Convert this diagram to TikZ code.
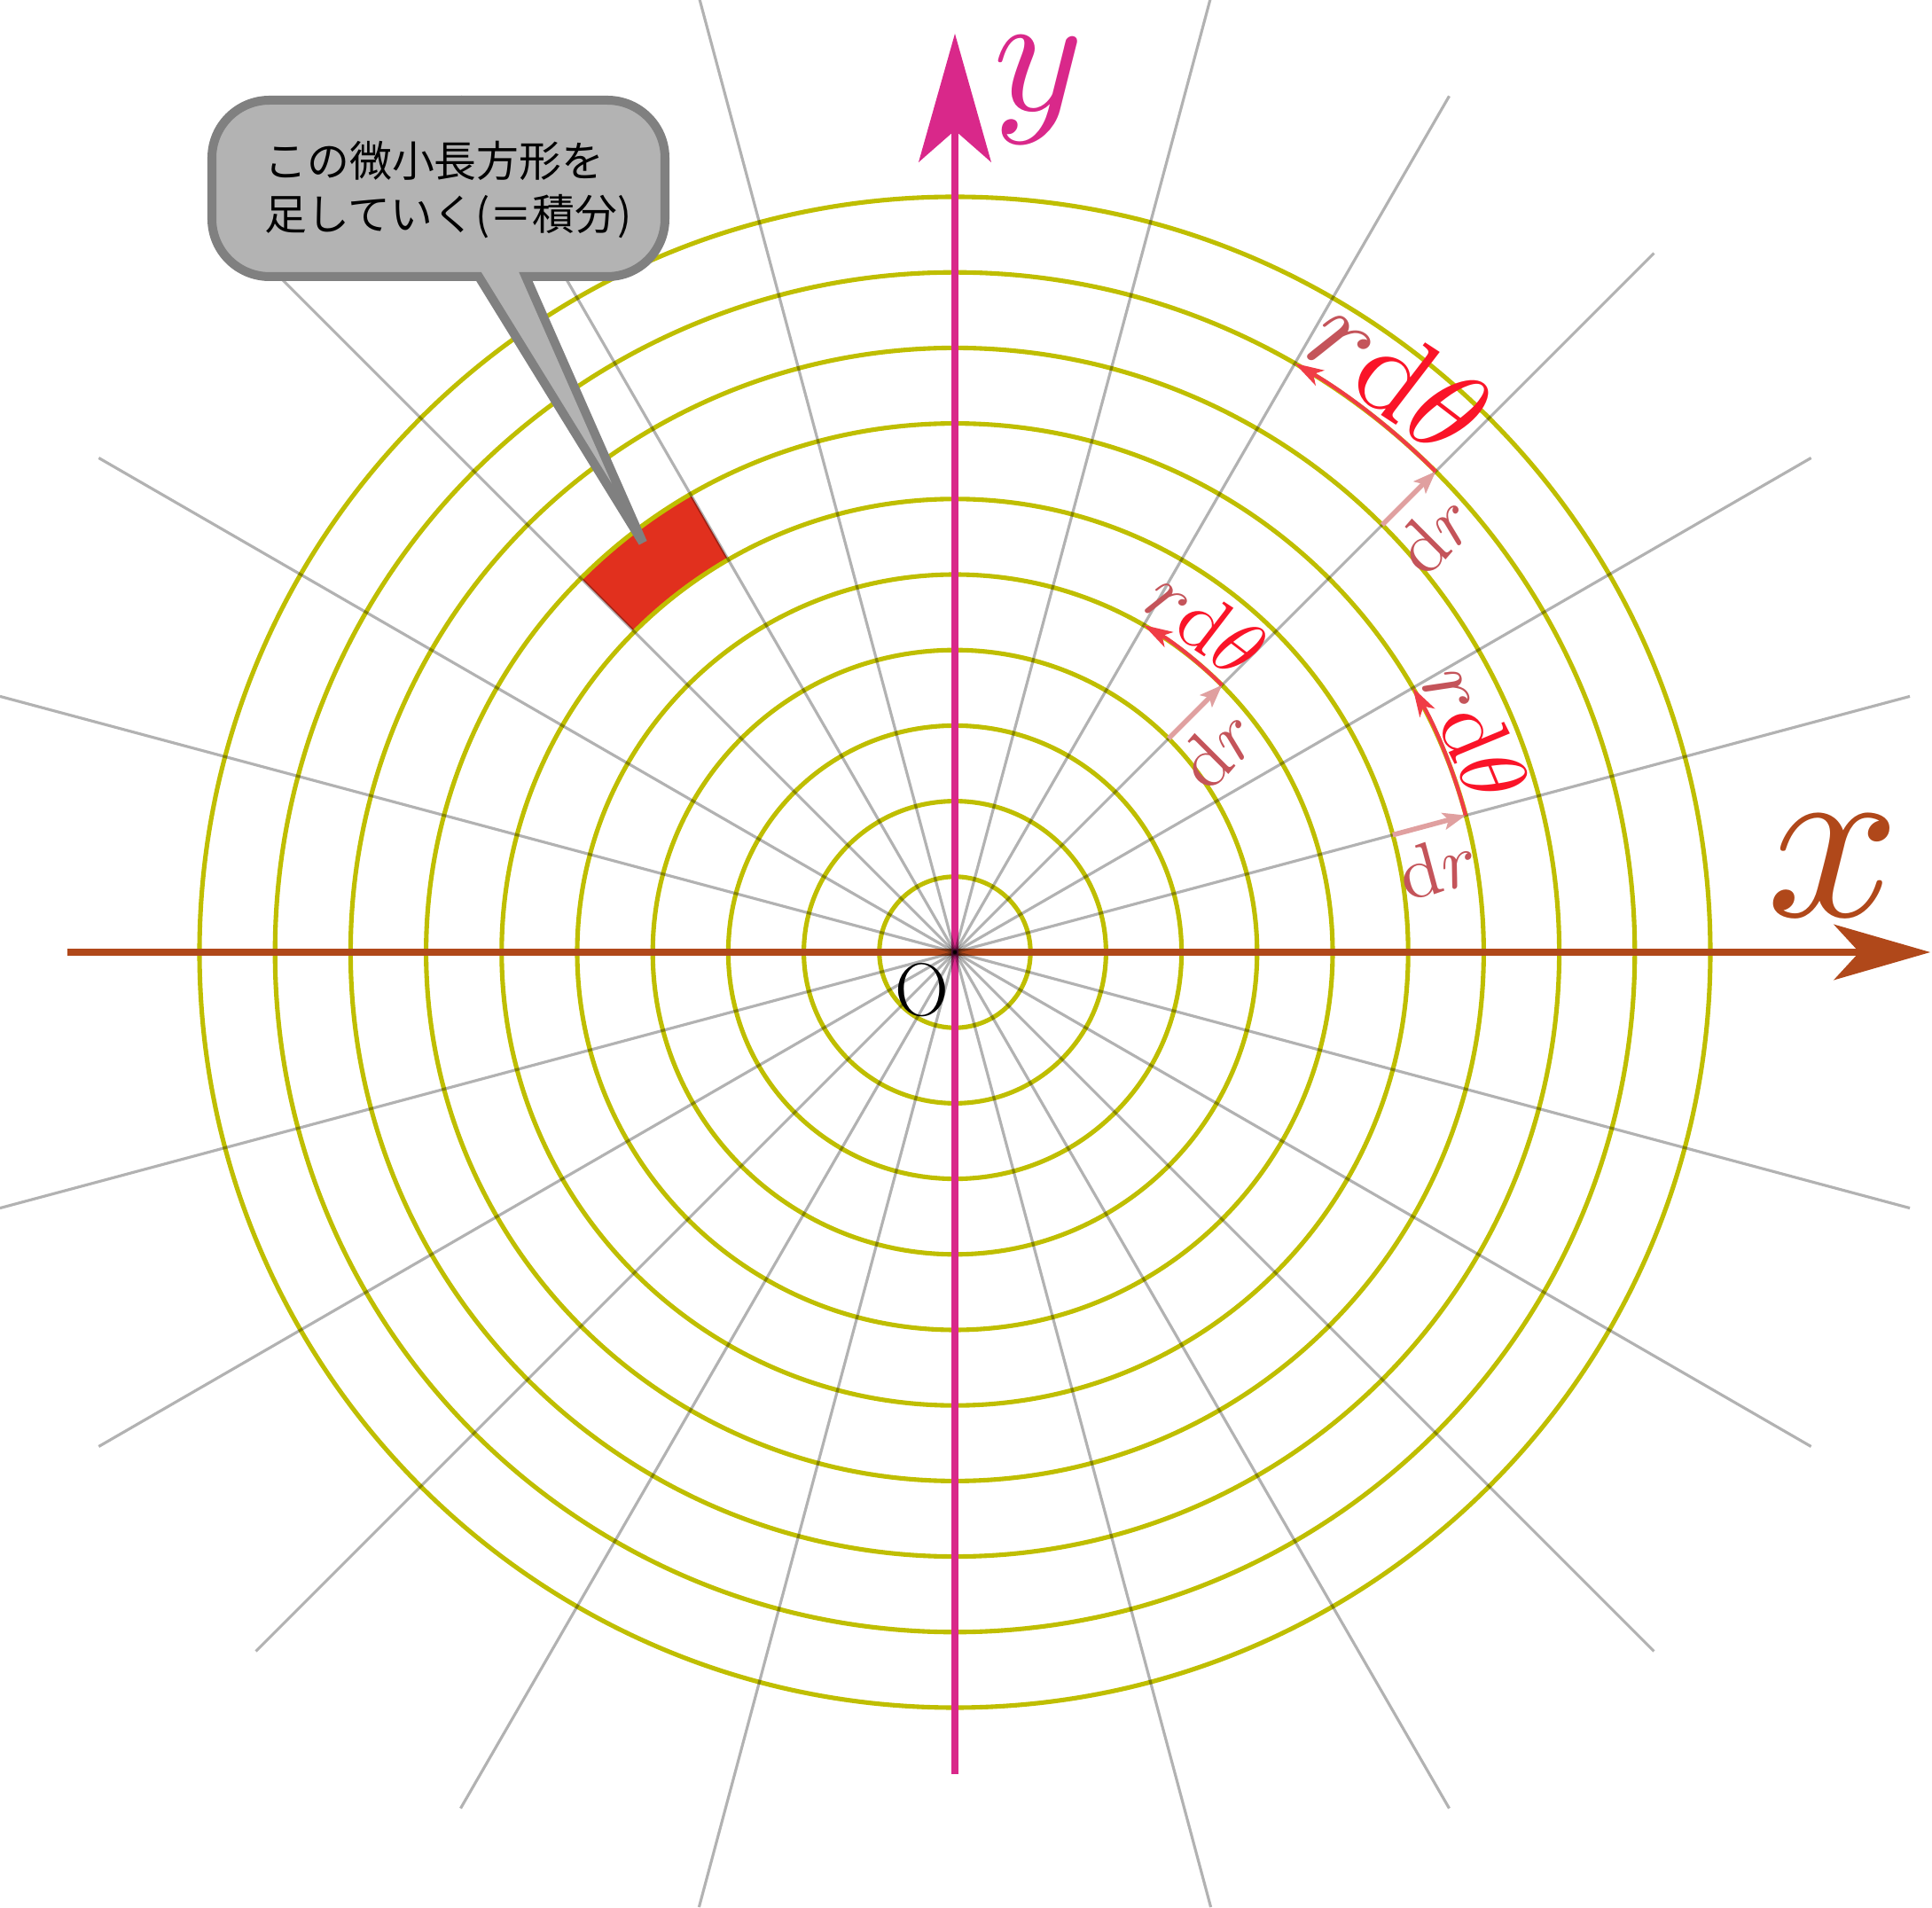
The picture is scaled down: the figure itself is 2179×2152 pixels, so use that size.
\documentclass[tikz,border=0pt]{standalone}
\usepackage{graphicx}
\usepackage{fontspec}
\newfontfamily\jpfont{Noto Sans CJK JP}
\usetikzlibrary{arrows.meta}
\definecolor{xcol}{HTML}{B0481A}
\definecolor{ycol}{HTML}{D9288A}
\definecolor{circcol}{HTML}{BFBE00}
\definecolor{seccol}{HTML}{E1301E}
\definecolor{boxfill}{HTML}{B3B3B3}
\definecolor{boxdraw}{HTML}{808080}
\definecolor{arccol}{HTML}{F03C46}
\definecolor{thcol}{HTML}{FA1428}
\definecolor{rcol}{HTML}{C4545A}
\definecolor{drcol}{HTML}{E0A0A0}
\newcommand{\rdth}{$\textcolor{rcol}{r}\textcolor{thcol}{\mathrm{d}\theta}$}
\newcommand{\drlab}{$\mathrm{d}r$}
\begin{document}
\begin{tikzpicture}[x=0.01cm,y=0.01cm,
  circ/.style={draw=circcol, line width=1.45pt},
  ray/.style={draw=black, opacity=0.3, line width=0.9pt},
  xaxis/.style={draw=xcol, line width=2.3pt, -{Stealth[length=1.09cm,width=0.63cm,inset=0.29cm,line width=0pt]}},
  yaxis/.style={draw=ycol, line width=2.3pt, -{Stealth[length=1.45cm,width=0.82cm,inset=0.36cm,line width=0pt]}},
  arcarrow/.style={draw=arccol, line width=1.2pt, -{Stealth[length=0.33cm,width=0.2cm,inset=0.09cm,line width=0pt]}},
  drarrow/.style={draw=drcol, line width=1.6pt, -{Stealth[length=0.26cm,width=0.2cm,inset=0.06cm,line width=0pt]}},
  lbl/.style={inner sep=0pt, outer sep=0pt},
  callout/.style={fill=boxfill, draw=boxdraw, line width=2.85pt},
  jp/.style={inner sep=0pt, font=\jpfont\fontsize{13.6}{16}\selectfont}
]
\useasboundingbox (-1077,-1078) rectangle (1102,1074);
\coordinate (O) at (0,0);
% small area element
\fill[seccol] (120:511.2) arc (120:135:511.2) -- (135:596.4) arc (135:120:596.4) -- cycle;
% circles
\foreach \i in {1,...,10} \draw[circ] (O) circle[radius=\i*85.2];
% axes
\coordinate (xs) at (-1001,0);
\coordinate (xe) at (1100,0);
\coordinate (ys) at (0,-927);
\coordinate (ye) at (0,1036);
\draw[xaxis] (xs) -- (xe);
\draw[yaxis] (ys) -- (ye);
% rays
\foreach \a in {15,30,45,60,75,105,120,135,150,165,195,210,225,240,255,285,300,315,330,345}
  \draw[ray] (O) -- (\a:1115);
% annotations
\coordinate (a1) at (45:681.6);
\coordinate (b1) at (45:766.8);
\draw[drarrow] (a1) -- (b1);
\draw[arcarrow] (b1) arc (45:60:766.8);
\coordinate (a2) at (45:340.8);
\coordinate (b2) at (45:426);
\draw[drarrow] (a2) -- (b2);
\draw[arcarrow] (b2) arc (45:60:426);
\coordinate (a3) at (15:511.2);
\coordinate (b3) at (15:596.4);
\draw[drarrow] (a3) -- (b3);
\draw[arcarrow] (b3) arc (15:30:596.4);
\node[lbl, rotate=-37.5] (rd1) at (52.5:822) {\scalebox{3.9}{\rdth}};
\node[lbl, rotate=-37.5] (rd2) at (52.7:467) {\scalebox{2.6}{\rdth}};
\node[lbl, rotate=-67.5] (rd3) at (22.9:637) {\scalebox{2.9}{\rdth}};
\node[lbl, rotate=45, text=rcol] (dr1) at (41.1:718) {\scalebox{2.4}{\drlab}};
\node[lbl, rotate=45, text=rcol] (dr2) at (37.8:375) {\scalebox{2.4}{\drlab}};
\node[lbl, rotate=15, text=rcol] (dr3) at (10.1:553) {\scalebox{2.4}{\drlab}};
% axis labels
\node[lbl, text=xcol] (xl) at (991,97) {\scalebox{7.5}{$x$}};
\node[lbl, text=ycol] (yl) at (94,972) {\scalebox{5.5}{$y$}};
\node[lbl] (ol) at (-37,-43) {\fontsize{24}{28}\selectfont O};
% callout
\draw[callout] (-484,762) [rounded corners=0.65cm] -- (-327,762) -- (-327,961) -- (-838,961) -- (-838,762) [sharp corners] -- (-537,762) -- (-352,462) -- cycle;
\node[jp, anchor=base west] (t1) at (-779,874) {この微小長方形を};
\node[jp, anchor=base west] (t2) at (-779,814) {足していく(＝積分)};
\end{tikzpicture}
\end{document}
